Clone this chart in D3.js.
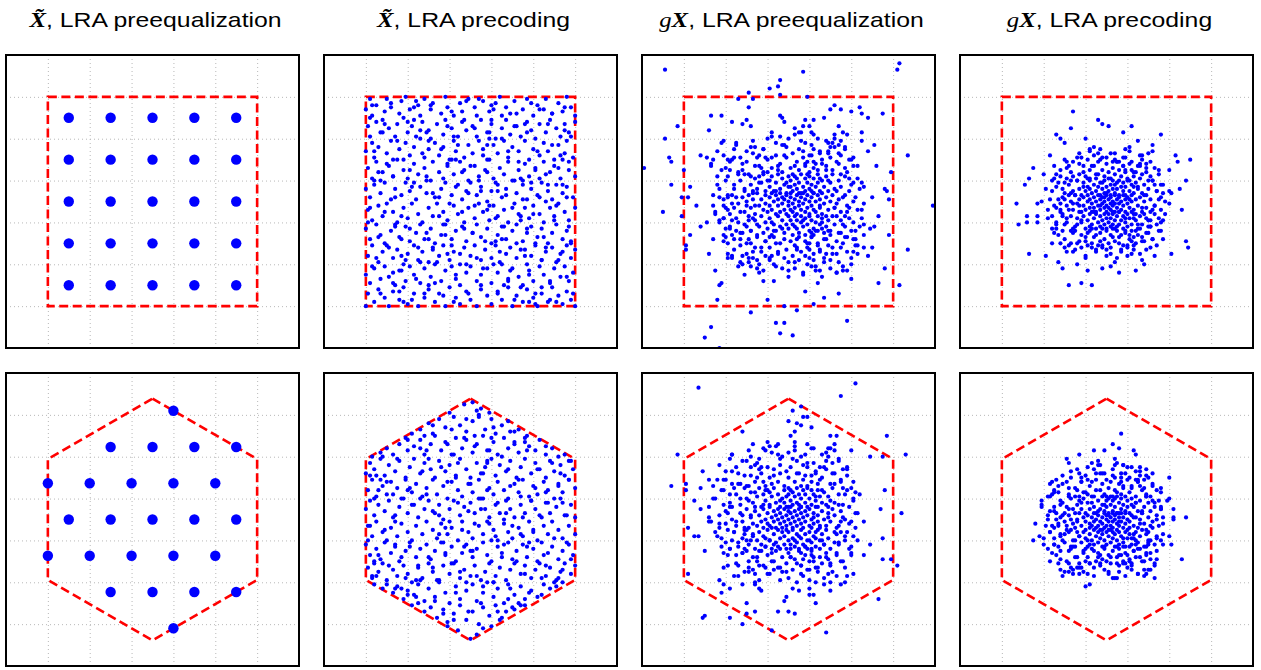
<!DOCTYPE html>
<html>
<head>
<meta charset="utf-8">
<script src="https://cdn.jsdelivr.net/npm/d3@7"></script>
<style>
  body { margin: 0; background: #fff; }
  svg { display: block; }
  .grid line { stroke: #b8b8b8; stroke-width: 1; stroke-dasharray: 1,3; }
  .grid path { display: none; }
</style>
</head>
<body>
<div id="chart"></div>
<script>
// ---- data: lattice units; cloud points are flat x,y pairs in twentieths of a unit ----
const axisDomain = [-3.5, 3.5];
const gridTicks = [-2.5, -1.5, -0.5, 0.5, 1.5, 2.5];

const squareLattice = [
  [-2, 2], [-1, 2], [0, 2], [1, 2], [2, 2],
  [-2, 1], [-1, 1], [0, 1], [1, 1], [2, 1],
  [-2, 0], [-1, 0], [0, 0], [1, 0], [2, 0],
  [-2, -1], [-1, -1], [0, -1], [1, -1], [2, -1],
  [-2, -2], [-1, -2], [0, -2], [1, -2], [2, -2]
];
const hexLattice = [
  [0.5, 2.598],
  [-1, 1.732], [0, 1.732], [1, 1.732], [2, 1.732],
  [-2.5, 0.866], [-1.5, 0.866], [-0.5, 0.866], [0.5, 0.866], [1.5, 0.866],
  [-2, 0], [-1, 0], [0, 0], [1, 0], [2, 0],
  [-2.5, -0.866], [-1.5, -0.866], [-0.5, -0.866], [0.5, -0.866], [1.5, -0.866],
  [-1, -1.732], [0, -1.732], [1, -1.732], [2, -1.732],
  [0.5, -2.598]
];
const squareRegion = [[-2.5, 2.5], [2.5, 2.5], [2.5, -2.5], [-2.5, -2.5]];
const hexRegion = [[0, 2.887], [2.5, 1.443], [2.5, -1.443], [0, -2.887], [-2.5, -1.443], [-2.5, 1.443]];

// X~, LRA precoding (square)
const sqPrecoding = [
  -50,44, -48,49, -47,41, -45,46, -41,43, -40,49, -38,45, -34,42, -33,48, -31,50, -29,44, -25,46, -24,41, -22,49, -19,44, -18,47, -14,42, -12,50, -11,45, -8,41, -5,47, -4,43, -1,49, 2,45, 3,41, 6,48, 9,43, 10,46, 14,50, 15,41, 17,45, 21,48, 22,42, 25,44, 27,49, 30,41, 32,46, 35,44, 36,49, 39,42, 42,47, 44,43, 46,50, 48,45, 50,41,
  -49,36, -48,31, -45,38, -43,33, -42,39, -39,35, -36,31, -35,37, -32,40, -30,33, -28,36, -26,31, -23,38, -20,34, -19,30, -16,37, -13,32, -12,39, -9,35, -6,31, -4,38, -2,34, 1,36, 3,31, 5,39, 8,33, 10,37, 12,30, 15,35, 17,39, 19,32, 22,36, 24,31, 27,38, 29,34, 31,30, 33,37, 36,33, 38,39, 41,35, 43,31, 45,37, 47,33, 50,38, -27,39,
  -50,24, -47,28, -46,21, -44,26, -40,23, -38,29, -37,20, -34,25, -31,28, -29,22, -27,26, -24,30, -22,21, -20,25, -17,28, -15,22, -13,26, -10,20, -8,29, -7,24, -3,21, -1,27, 1,23, 4,29, 6,25, 8,20, 11,27, 13,23, 16,29, 18,21, 20,26, 23,24, 26,29, 28,20, 30,25, 33,22, 35,28, 37,24, 40,20, 42,27, 45,23, 46,29, 49,21, -32,20, 9,30,
  -49,16, -47,11, -45,19, -42,14, -39,17, -37,12, -35,20, -32,15, -30,11, -27,18, -25,13, -22,16, -21,10, -18,19, -15,14, -13,11, -11,17, -8,13, -5,19, -3,15, -1,10, 2,17, 4,12, 7,15, 9,20, 11,11, 14,16, 16,13, 18,19, 21,10, 23,15, 26,18, 28,12, 31,16, 33,11, 35,19, 38,14, 40,17, 43,11, 44,20, 47,15, 50,12, -43,10, 25,10, -9,20,
  -50,6, -48,2, -46,8, -43,4, -41,9, -38,1, -36,6, -33,3, -31,9, -29,5, -26,1, -24,7, -21,4, -19,10, -17,2, -14,6, -12,9, -9,3, -7,7, -4,1, -2,5, 0,9, 3,3, 5,7, 8,0, 10,5, 12,9, 15,2, 17,6, 20,10, 22,4, 25,8, 27,1, 29,6, 32,3, 34,9, 37,5, 39,1, 41,8, 44,4, 46,7, 49,2, -27,9, 13,5, 36,0,
  -49,-4, -47,-9, -44,-2, -42,-7, -40,-1, -37,-5, -35,-10, -32,-3, -30,-8, -28,-1, -25,-6, -23,-10, -20,-3, -18,-7, -16,-1, -13,-5, -11,-9, -8,-2, -6,-6, -3,-10, -1,-3, 2,-8, 4,-1, 6,-5, 9,-9, 11,-2, 13,-7, 16,-4, 18,-10, 21,-1, 23,-6, 26,-3, 28,-8, 30,-2, 33,-6, 35,-10, 38,-3, 40,-7, 42,-1, 45,-5, 47,-9, 50,-3, -33,-7, 8,-4, 24,-9,
  -50,-13, -48,-18, -45,-11, -43,-16, -41,-20, -38,-14, -36,-11, -34,-17, -31,-12, -29,-19, -26,-15, -24,-11, -22,-18, -19,-13, -17,-20, -14,-16, -12,-11, -9,-18, -7,-14, -4,-12, -2,-19, 1,-15, 3,-11, 5,-17, 8,-13, 10,-20, 13,-16, 15,-12, 17,-18, 20,-14, 22,-11, 25,-19, 27,-15, 29,-12, 32,-17, 34,-13, 37,-20, 39,-15, 41,-11, 44,-18, 46,-14, 48,-20, -21,-15, 12,-19, 31,-20,
  -49,-26, -47,-21, -44,-29, -42,-24, -40,-21, -37,-27, -35,-23, -32,-30, -30,-25, -27,-21, -25,-28, -23,-24, -20,-29, -18,-22, -15,-26, -13,-21, -10,-28, -8,-24, -5,-30, -3,-22, 0,-26, 2,-21, 5,-28, 7,-23, 10,-27, 12,-21, 14,-29, 17,-25, 19,-22, 22,-27, 24,-23, 27,-30, 29,-26, 31,-21, 34,-28, 36,-24, 39,-22, 41,-29, 43,-25, 46,-21, 48,-27, 50,-23, -11,-25, 26,-23, -33,-26,
  -50,-35, -48,-39, -46,-32, -43,-37, -41,-31, -39,-36, -36,-40, -34,-33, -31,-38, -29,-31, -27,-35, -24,-39, -22,-32, -19,-36, -17,-30, -14,-38, -12,-33, -9,-31, -7,-37, -5,-40, -2,-34, 0,-31, 3,-38, 5,-35, 8,-32, 10,-39, 13,-34, 15,-30, 18,-37, 20,-32, 23,-36, 25,-40, 28,-33, 30,-38, 33,-31, 35,-35, 38,-39, 40,-32, 43,-36, 45,-31, 47,-38, 49,-34, -20,-40, 16,-40, -37,-34,
  -50,-50, -49,-44, -46,-48, -44,-42, -41,-46, -39,-50, -37,-43, -34,-47, -32,-41, -30,-49, -27,-44, -25,-50, -22,-46, -20,-42, -17,-48, -15,-44, -12,-50, -10,-41, -7,-46, -5,-49, -2,-43, 0,-47, 3,-50, 5,-42, 8,-45, 10,-49, 13,-43, 15,-47, 18,-41, 20,-50, 22,-45, 25,-48, 27,-42, 30,-46, 32,-50, 34,-44, 37,-48, 39,-41, 42,-45, 44,-49, 46,-43, 48,-47, 50,-50, 31,-49, -28,-47,
  -37,12, 19,-33, 44,8, -6,27, 31,-44, -45,-27, 8,14, -21,33, 2,-2, 47,-12, -13,-45, 26,37, -33,-18, 12,-8, -48,40, 39,27, -2,48, 17,3, -26,-37, 34,-28, -9,-21, 23,19, -41,-5, 5,-40, 46,-36, -18,4, 29,47, -30,38, 14,-24, -4,14, 41,-2, -46,24, 9,33, -24,-29, 36,13, -15,-7, 21,-47, -38,47, 1,-15, 48,31, -11,36, 27,-13, -43,-44, 11,44, -29,15, 33,2, -7,-35, 45,45, -20,-18, 6,22, -35,29, 18,-38, -1,4, 38,-47, -49,-10, 24,11, -16,-29, 43,22, -27,45, 3,-27, 30,-6, -44,14, 15,30, -10,-1, 37,37, -32,-48, 7,-19, -3,39, 49,-44,
  -23,23, 20,-3, -39,-22, 13,8, -8,-48, 42,16, -19,46, 28,-35, -47,-31, 0,17, 35,-17, -14,25, 24,-41, -36,-12, 10,39, -5,-25, 46,2, -28,7, 16,-12, -42,33, 32,24, -12,-16, 4,49, -34,-43, 40,-9, -21,12, 26,-26, -1,-44, 45,34, -40,18, 11,-30, -17,-39, 33,44, -6,8, 22,-20, -48,-3, 8,27, -25,-22, 38,-38, -3,-13, 19,42, -31,-28, 47,19, -9,43, 29,9, -44,-17, 13,-44, -20,29, 36,-22, 2,35, -37,-39, 24,-7, -11,18, 42,-28, -26,48, 6,-32, 31,15, -15,2, 18,24,
  -33,-33, 48,-19, -4,-5, 27,33, -46,10, 9,-2, -22,-44, 39,42, -8,31, 15,-18, -41,37, 34,-41, -18,-23, 5,5, 44,-24, -29,-13, 21,36, -2,-30, 37,8, -36,2, 12,47, -13,-11, 28,-48, -47,46, 4,10, -24,34, 41,-48, -7,20, 25,1
];

// gX, LRA preequalization (square)
const sqGPreeq = [
  -59,63, 53,66, 52,63, 7,62, -4,58, -5,55, -9,54, -19,52, -4,51, -24,49, 9,50, -17,49, -19,45, -69,16, 69,-2, 57,22, 57,-23, 53,-40, -59,30, -53,36, -57,21, -56,19, -56,8, -60,-5, -51,-7, -51,2, -48,2, -49,-21, -49,-23,
  -37,-60, -40,-65, -33,-70, -18,-53, -6,-58, -2,-58, -4,-63, 2,-64, 4,-52, -2,-50, 28,-57, 12,-49, -34,-47, -38,-25, -35,-33, -32,-39, -33,-40, -10,-47, 8,-43, 17,-46, 24,-44, 46,-32, 43,-39, 48,-16,
  45,42, 34,45, 35,42, 22,46, 20,44, 25,44, 30,43, 38,40, 41,27, 42,17, 49,14, 46,6, 47,5, 48,1, 43,-7, 41,-12, 40,-22, 36,-22, -37,41, -32,41, -38,34, -27,38, -42,22, -39,21, -36,20, -37,18, -50,15, -47,7, -44,-2, -42,-12, -47,-16, -36,-18, -39,-10,
  -22,37, -20,39, -18,36, -4,41, -3,40, -2,38, 8,39, 12,39, 7,36, 3,35, 3,32, 11,33, 10,36, 17,40, 24,36, 26,33, 28,32, 35,33, 35,29, 38,24, 24,27, 19,28, 20,26, -32,28, -31,29, -34,24, -29,20, -27,20, -37,17, -33,2, -35,-6, -31,-8, -30,-3, -29,2, -28,-12, -31,-16,
  -29,-25, -27,-27, -23,-29, -19,-27, -18,-31, -21,-35, -15,-32, -12,-38, -7,-38, -6,-31, 0,-33, 5,-28, 11,-31, 15,-33, 16,-36, 14,-39, 23,-34, 28,-33, 30,-37, 32,-21, 33,-25, 36,-16, 39,-13, 38,-26, 31,-18,
  -18,26, -8,31, -2,27, 5,33, 12,25, 18,29, 27,26, -25,28, 8,28, -12,25, 22,32, 0,30, 15,24,
  -30,16, -26,21, -22,15, -20,19, -17,23, -14,17, -12,14, -10,20, -8,16, -6,22, -4,18, -3,14, -1,21, 1,16, 2,23, 4,19, 5,15, 7,21, 8,17, 10,14, 11,22, 13,18, 14,15, 16,20, 18,17, 19,23, 21,15, 23,19, 25,22, 27,16, 30,20, 33,17, -15,21, 9,19, -5,15, 3,17, 12,16,
  -34,8, -29,12, -26,6, -23,10, -21,5, -19,13, -18,8, -16,11, -15,6, -13,9, -12,13, -11,5, -10,10, -9,7, -8,12, -7,5, -6,9, -5,13, -4,6, -3,11, -2,8, -1,4, 0,12, 0,7, 1,10, 2,5, 2,13, 3,8, 4,11, 4,6, 5,9, 6,13, 6,4, 7,7, 8,11, 8,5, 9,9, 10,12, 10,6, 11,8, 12,4, 12,11, 13,7, 14,13, 14,9, 15,5, 16,10, 17,7, 18,12, 19,5, 20,9, 21,13, 22,6, 24,10, 25,7, 27,12, 29,5, 31,9, 36,7, -24,13, -17,4, -14,12, -6,5, 1,7, 3,12, 5,4, 9,13, 11,5, 15,11, -1,9,
  -36,-2, -31,1, -29,-4, -27,3, -24,-1, -22,2, -21,-5, -20,0, -19,3, -18,-3, -17,1, -16,-6, -15,4, -14,-2, -13,1, -12,-4, -11,3, -11,-1, -10,-5, -9,2, -9,-2, -8,4, -8,-4, -7,0, -6,-6, -6,3, -5,-2, -5,1, -4,-5, -4,4, -3,-1, -3,2, -2,-4, -2,1, -1,-6, -1,3, 0,-2, 0,0, 1,-4, 1,2, 1,4, 2,-1, 2,-5, 3,1, 3,-3, 4,3, 4,-6, 5,0, 5,-2, 6,2, 6,-4, 7,4, 7,-1, 8,-5, 8,1, 9,3, 9,-3, 10,0, 10,-6, 11,2, 11,-2, 12,4, 12,-4, 13,0, 13,-5, 14,3, 15,-2, 15,1, 16,-6, 16,4, 17,-1, 18,2, 19,-4, 20,0, 21,3, 22,-3, 24,1, 25,-5, 26,2, 28,-2, 31,0, 35,-4, 40,2, -26,-3, 23,-1,
  -33,-10, -28,-13, -25,-8, -23,-15, -21,-11, -19,-7, -18,-14, -16,-9, -15,-16, -14,-12, -13,-7, -12,-15, -11,-10, -10,-13, -9,-8, -8,-16, -7,-11, -6,-14, -5,-7, -4,-12, -3,-9, -2,-15, -1,-11, 0,-7, 0,-13, 1,-9, 2,-16, 2,-11, 3,-7, 4,-13, 4,-9, 5,-15, 6,-10, 6,-7, 7,-12, 8,-16, 8,-8, 9,-11, 10,-14, 10,-7, 11,-9, 12,-13, 12,-16, 13,-10, 14,-7, 14,-14, 15,-11, 16,-8, 17,-15, 18,-12, 19,-9, 20,-14, 21,-7, 22,-11, 24,-15, 25,-9, 27,-12, 29,-8, 32,-14, -27,-16, -20,-12, -17,-8, -8,-10, -3,-13, 3,-12, 7,-9, 11,-15, 16,-13, 23,-7, 36,-11,
  -31,-19, -26,-23, -23,-18, -20,-25, -18,-20, -15,-17, -13,-24, -11,-19, -9,-22, -7,-17, -5,-25, -4,-20, -2,-18, -1,-23, 1,-19, 2,-26, 3,-21, 5,-17, 6,-24, 8,-19, 9,-22, 11,-17, 12,-25, 14,-20, 15,-23, 17,-18, 19,-21, 21,-25, 23,-19, 25,-22, 28,-17, 31,-24, -16,-22, -8,-26, 4,-23, 10,-20, 18,-25,
  -22,-30, -14,-34, -9,-28, -3,-32, 3,-29, 7,-35, 13,-31, 20,-28, 26,-33, -17,-27, 0,-36, 10,-27, 30,-30,
  -24,14, 27,-17, -11,-26, 19,24, -28,-6, 30,8, -6,28, 12,-28, -20,-20, 24,18, -30,10, 33,-4, -14,22, 8,-26, -25,-14, 21,-22, -3,27, 28,14, -17,-24, 15,23, -29,3, 31,-10, -9,-27, 26,-20, -22,18, 17,-27, 0,-29, 29,20, -27,-9, 11,27, -19,-18, 32,2, -12,25, 23,-25, -31,-2, 20,21, -7,-30, 27,-7, -23,21, 14,-21, -16,26, 30,-14, -26,-18, 6,29, -21,6, 25,13, -13,-22, 18,-18, -28,15, 34,6, -5,-24, 22,26, -24,-10, 9,-30, -18,12, 28,-24, -10,30, -30,-13, 16,18, -15,-28, 35,-8, -26,25, 4,-22, -20,-2, 23,5, -8,21, 19,-14, -33,6, 13,-33, -1,26, 29,-3, -22,-26, 10,22, -27,-1, 24,-29, -16,17, 31,17, -11,-19, 20,-32,
  -32,15, 7,24, -25,2, 26,-11, -4,31, 15,-24, -19,-29, 33,11, -14,9, 21,28, -29,-20, 12,19, -9,-17, 27,25, -23,-5, 3,-32, -35,-5, 18,-7, -17,29, 32,-18, -21,13, 9,-20, -12,-33, 25,-15, -26,8, 14,30, -6,-20, 36,-1, -31,22, 5,25, -18,-14, 22,-3, -10,14, 17,-29, -24,-31, 29,11, -2,-27, 11,-17, -28,19, 24,23, -15,-11, 34,-12, -8,33, 19,10, -33,-9, 7,-34, -20,24, 30,-27, -13,16, 16,-10, -27,-26, 25,29, -5,17, 20,-16, -30,-17, 12,32, -16,-2, 28,-5, -22,-15, 8,18, -36,3, 23,-34, -11,21, 31,21, -19,-9, 4,-18, -25,27, 35,9, -7,-14, 18,15, -34,12, 13,-14, -2,22, 26,-31, -29,-27, 10,-23, -17,5, 22,30, -14,-30, 33,-21, -9,10, 15,-3, -23,-21, 6,33, -31,-8, 27,3
];

// gX, LRA precoding (square)
const sqGPrec = [
  -16,43, -4,39, -2,37, 1,36, 12,36, -17,35, -24,32, -22,30, -20,28, 26,32, 40,20, 33,22, 34,19, -35,16, -37,11, -39,8, -43,-1, -42,-11, -38,-7, -38,-10, -33,-7, -33,-10, -37,-25, -29,-26, -23,-29, -21,-32, -18,-40, -12,-39, -7,-40, -9,-33, -2,-32, 2,-31, 14,-33, 18,-30, 23,-26, 31,-25, 39,-22, 38,-19, 36,-4, 38,10, 35,6, 30,15, 30,5, -30,13, -31,0, 8,33, -10,30, 15,29, 22,27, -27,22, 27,-18, -26,-20, 6,-34, -14,-30,
  -14,21, -8,25, -3,20, 2,23, 6,19, 11,26, 16,22, -19,19, 9,21, -6,22, 22,24,
  -24,13, -19,16, -16,12, -13,18, -11,14, -9,11, -7,17, -5,13, -4,19, -2,15, -1,12, 0,18, 1,14, 2,11, 3,16, 4,13, 5,19, 6,15, 7,12, 8,17, 9,14, 10,11, 11,18, 12,15, 13,12, 15,17, 17,13, 19,16, 21,12, 25,15, -8,15, 3,19, 14,14,
  -29,6, -23,9, -20,4, -18,8, -16,5, -14,10, -13,6, -12,3, -11,9, -10,5, -9,7, -8,10, -7,4, -6,8, -5,5, -5,11, -4,7, -3,3, -3,9, -2,6, -1,10, -1,4, 0,7, 1,5, 1,11, 2,8, 2,3, 3,6, 3,10, 4,4, 4,8, 5,6, 6,10, 6,3, 7,7, 8,5, 8,9, 9,3, 9,7, 10,10, 11,5, 12,8, 13,4, 14,9, 15,6, 16,11, 17,4, 18,8, 20,6, 22,10, 24,5, 27,8, 31,4, -26,10, -15,3, -19,11, -2,9, 5,9, 11,10, -8,6, 13,7, 19,3, 0,4,
  -33,-1, -27,1, -24,-3, -21,2, -19,-2, -17,0, -16,-4, -15,3, -14,-1, -13,1, -12,-5, -11,-2, -11,2, -10,-4, -9,0, -9,3, -8,-3, -8,1, -7,-5, -7,-1, -6,2, -6,-3, -5,0, -5,-5, -4,3, -4,-2, -3,1, -3,-4, -2,-1, -2,2, -1,-3, -1,0, 0,3, 0,-5, 0,-2, 1,1, 1,-3, 2,-1, 2,2, 2,-4, 3,0, 3,-2, 4,3, 4,-5, 4,-1, 5,1, 5,-3, 6,-1, 6,2, 7,-4, 7,0, 8,3, 8,-2, 9,1, 9,-5, 10,-1, 10,2, 11,-3, 12,0, 12,3, 13,-4, 14,1, 15,-2, 16,2, 17,-5, 18,0, 19,-3, 21,1, 23,-2, 26,2, 30,-1, -22,-5, -18,3, -1,2, 3,-5, 6,-5, 11,1, -3,-2,
  -28,-8, -24,-11, -21,-6, -19,-10, -17,-7, -15,-12, -14,-8, -13,-5, -12,-10, -11,-7, -10,-13, -9,-9, -8,-6, -7,-11, -6,-8, -5,-13, -5,-6, -4,-10, -3,-7, -3,-12, -2,-9, -1,-6, -1,-11, 0,-8, 0,-13, 1,-10, 1,-6, 2,-12, 2,-8, 3,-6, 3,-11, 4,-9, 4,-13, 5,-7, 6,-11, 6,-5, 7,-9, 8,-13, 8,-7, 9,-10, 10,-6, 10,-12, 11,-8, 12,-11, 13,-6, 14,-9, 15,-13, 16,-7, 17,-11, 19,-8, 21,-12, 23,-6, 26,-10, -26,-13, -16,-13, -8,-12, -6,-5, 5,-12, 12,-5, 18,-6, -2,-13, 9,-8, 20,-9,
  -25,-15, -20,-18, -17,-14, -14,-20, -12,-16, -10,-19, -8,-14, -6,-17, -4,-21, -3,-15, -1,-18, 0,-14, 1,-20, 2,-16, 4,-19, 5,-14, 6,-17, 8,-21, 9,-15, 11,-18, 12,-14, 14,-20, 15,-16, 17,-19, 19,-15, 22,-18, 26,-14, -18,-21, -7,-20, 3,-13, 10,-21, 13,-17, -2,-21,
  -16,-24, -10,-27, -5,-23, 0,-26, 4,-29, 7,-23, 12,-25, 17,-28, 21,-22, -20,-22, 2,-22,
  -20,9, 21,-12, -9,-21, 16,18, -22,-4, 24,5, -4,23, 10,-22, -16,-15, 19,14, -24,7, 26,-4, -11,17, 6,-20, -20,-11, 17,-17, -2,21, 22,10, -13,-19, 12,19, -23,1, 25,-8, -7,-22, 20,-15, -17,14, 13,-21, 0,-23, 23,16, -21,-7, 8,21, -15,-14, 25,1, -9,20, 18,-19, -25,-2, 16,17, -5,-24, 21,-5, -18,17, 11,-16, -12,21, 24,-11, -21,-14, 4,23, -17,4, 20,10, -10,-17, 14,-14, -22,12, 27,4, -3,-19, 17,20, -19,-8, 7,-24, -14,10, 22,-18, -8,24, -24,-10, 13,14, -12,-22, 28,-6, -20,20, 3,-17, -16,-1, 18,3, -6,17, 15,-11, -26,5, 10,-26, 0,21, 23,-2, -17,-20, 8,17,
  -22,-1, 19,-23, -13,13, 25,13, -9,-15, 16,-25, -25,11, 5,19, -20,1, 21,-9, -3,25, 12,-19, -15,-23, 26,8, -11,7, 17,22, -23,-16, 9,15, -7,-13, 21,19, -18,-4, 2,-25, -28,-4, 14,-6, -13,23, 25,-14, -17,10, 7,-16, -10,-26, 20,-12, -21,6, 11,24, -5,-16, 28,0, -25,17, 4,20, -14,-11, 17,-3, -8,11, 13,-23, -19,-24, 23,8, -2,-22, 9,-14, -22,15, 19,18, -12,-9, 27,-9, -6,26, 15,7, -26,-7, 5,-27, -16,19, 24,-21, -10,12, 13,-8, -22,-20, 20,23, -4,13, 16,-13, -24,-13, 9,25, -13,-2, 22,-4
];

// X~, LRA precoding (hexagon)
const hexPrecoding = [
  -10,51, 5,53, -3,55, 9,51, 1,56,
  -28,41, -24,43, -20,46, -15,48, -12,44, -18,41, -8,49, -5,45, -2,42, 1,47, 4,50, 7,43, 10,48, 12,41, 15,45, 18,47, 21,42, 23,43, 27,40, -22,40, 2,40,
  -47,30, -43,32, -40,34, -37,31, -34,36, -31,39, -30,33, -27,35, -24,38, -22,31, -19,36, -17,40, -14,33, -12,37, -9,31, -7,39, -4,34, -2,38, 1,32, 3,36, 6,40, 8,33, 11,37, 13,31, 16,39, 18,34, 21,37, 23,32, 26,39, 28,35, 31,33, 33,38, 36,31, 39,34, 42,30, 45,31,
  -50,22, -48,27, -46,24, -43,29, -41,21, -39,26, -36,23, -34,28, -31,20, -29,25, -27,29, -24,22, -22,27, -19,24, -17,20, -15,28, -12,23, -10,26, -7,21, -5,29, -2,24, 0,20, 3,27, 5,22, 7,25, 10,29, 12,21, 14,26, 17,23, 19,28, 22,20, 24,25, 26,29, 29,22, 31,27, 33,24, 36,20, 38,28, 40,23, 43,26, 45,21, 47,28, 49,24, -48,21, 8,28,
  -49,14, -47,19, -45,11, -42,16, -40,12, -38,18, -35,15, -33,10, -31,19, -28,13, -26,17, -23,11, -21,15, -18,19, -16,12, -13,16, -11,10, -9,18, -6,14, -4,11, -1,17, 1,13, 4,19, 6,10, 9,15, 11,12, 13,18, 16,14, 18,10, 21,17, 23,13, 25,19, 28,11, 30,16, 32,12, 35,18, 37,14, 40,10, 42,17, 44,13, 47,19, 50,15, -30,14, 19,16, -43,19,
  -50,5, -48,9, -46,2, -44,7, -41,4, -39,9, -37,1, -34,6, -32,10, -30,3, -27,7, -25,1, -22,5, -20,9, -17,3, -15,7, -13,0, -10,5, -8,9, -5,2, -3,6, 0,8, 2,3, 5,10, 7,5, 9,1, 12,7, 14,3, 17,9, 19,5, 21,1, 24,7, 26,3, 29,9, 31,5, 34,1, 36,8, 38,3, 41,6, 43,10, 45,2, 48,7, 50,1, -24,10, 16,0,
  -49,-3, -47,-8, -45,-1, -42,-6, -40,-10, -38,-4, -35,-8, -33,-2, -30,-6, -28,-10, -26,-3, -23,-7, -21,-1, -18,-5, -16,-9, -14,-2, -11,-7, -9,-4, -6,-10, -4,-1, -1,-6, 1,-9, 4,-3, 6,-7, 8,-1, 11,-5, 13,-10, 16,-2, 18,-6, 20,-9, 23,-4, 25,-8, 28,-1, 30,-5, 32,-10, 35,-3, 37,-7, 39,-1, 42,-5, 44,-9, 47,-3, 50,-7, -36,-1, 10,-10, -12,-4,
  -50,-12, -48,-17, -45,-14, -43,-19, -41,-11, -38,-16, -36,-13, -34,-20, -31,-15, -29,-11, -26,-18, -24,-14, -21,-12, -19,-19, -17,-15, -14,-11, -12,-17, -9,-13, -7,-20, -4,-16, -2,-12, 1,-18, 3,-14, 6,-11, 8,-17, 10,-20, 13,-13, 15,-16, 18,-11, 20,-19, 22,-15, 25,-12, 27,-18, 30,-14, 32,-20, 34,-11, 37,-16, 39,-13, 42,-19, 44,-15, 46,-11, 49,-17, -46,-20, 0,-15, 28,-11,
  -49,-23, -47,-28, -44,-25, -42,-21, -40,-29, -37,-24, -35,-27, -32,-22, -30,-26, -28,-30, -25,-23, -23,-28, -20,-21, -18,-25, -15,-29, -13,-22, -10,-26, -8,-21, -5,-28, -3,-24, 0,-27, 2,-22, 5,-29, 7,-25, 9,-21, 12,-27, 14,-23, 17,-29, 19,-24, 21,-21, 24,-26, 26,-22, 29,-28, 31,-24, 33,-21, 36,-27, 38,-23, 41,-29, 43,-25, 45,-21, 48,-26, 50,-22, -46,-21, 11,-30, -26,-29,
  -46,-31, -42,-33, -40,-31, -37,-35, -35,-32, -32,-38, -30,-34, -27,-36, -25,-31, -22,-39, -20,-33, -17,-37, -15,-30, -12,-35, -10,-40, -7,-32, -5,-38, -2,-34, 1,-31, 3,-39, 6,-35, 8,-30, 11,-37, 13,-33, 16,-40, 18,-31, 21,-36, 24,-32, 26,-38, 29,-34, 32,-37, 35,-31, 38,-33, 41,-32, 44,-30,
  -28,-41, -22,-44, -19,-42, -16,-47, -13,-43, -11,-49, -8,-45, -5,-41, -2,-48, 1,-44, 4,-50, 6,-42, 9,-46, 12,-41, 14,-48, 17,-44, 20,-42, 23,-40, 26,-41, -25,-40,
  -6,-53, 3,-55, 10,-51, -11,-51, 0,-57,
  -37,12, 19,-33, 44,8, -6,27, 21,-43, -45,-27, 8,14, -21,33, 2,-2, 47,-12, -13,-45, 26,37, -33,-18, 12,-8, -30,38, 39,27, -2,48, 17,3, -26,-37, 34,-28, -9,-21, 23,19, -41,-5, 5,-40, 40,-30, -18,4, 9,33, -24,-29, 36,13, -15,-7, 15,-47, 1,-15, 48,28, -11,36, 27,-13, -36,-33, 11,44, -29,15, 33,2, -7,-35, 36,35, -20,-18, 6,22, -35,29, 18,-38, -1,4, -49,-10, 24,11, -16,-29, 43,22, -18,45, 3,-27, 30,-6, -44,14, 15,30, -10,-1, -3,39, -23,23, 20,-3, -39,-22, 13,8, -8,-48, 42,16, 28,-35, -47,-27, 0,17, 35,-17,
  -14,25, 24,-41, -36,-12, 10,39, -5,-25, 46,2, -28,7, 16,-12, -42,30, 32,24, -12,-16, 4,49, -30,-36, 40,-9, -21,12, 26,-26, -1,-44, -40,18, 11,-30, -17,-39, 6,-52, -6,8, 22,-20, -48,-3, 8,27, -25,-22, -3,-13, 19,42, -31,-28, 47,19, -9,43, 29,9, -44,-17, 13,-44, -20,29, 36,-22, 2,35, 24,-7, -11,18, 42,-28, 6,-32, 31,15, -15,2, 18,24, -33,-33, 48,-19, -4,-5, 27,33, -46,10, 9,-2, -8,31, 15,-18, 34,-36, -18,-23, 5,5, 44,-24, -29,-13, 21,36, -2,-30, 37,8, -36,2, -13,-11, 4,10, -24,34, -7,20, 25,1, -45,21, 3,52
];

// gX, LRA preequalization (hexagon)
const hexGPreeq = [
  -43,63, 32,65, 25,59, 47,40, 56,31, -53,31, -56,16, 54,3, 52,-22, 49,-19, 43,-38, 18,-54, -8,-53, -22,-50, -41,-47, -40,-46, -28,-47, -20,-40, -20,-45, -16,-44, -5,-44, 0,-44, 3,-45, 13,-40, -48,-26, -40,-15, -45,-8, -43,-8, -48,-4, -38,-1, -42,5, -45,9, -49,14, -49,17, -42,15, -38,19, -41,23,
  -22,42, -17,36, -9,35, -5,36, 0,47, 2,52, 6,54, 7,49, 9,49, 4,46, 6,45, 11,44, 3,42, 1,40, 20,40, 23,40, 22,36, 30,33, 39,30, 45,30, 46,14, 44,5, 45,-9, 45,-19, 39,-12, 36,-17, 31,-26, 27,-30, 17,-31, 20,-34, 10,-36, 12,-36, 5,-34, -1,-37, -2,-39, -13,-34, -28,-33, -32,-35, -31,-31, -33,-29, -22,-31, -16,-30, -14,-33,
  -20,28, -11,33, -4,29, 3,35, 9,27, 16,31, 24,28, -27,31, 0,32, 12,34, -15,27, 20,34, 6,30,
  -31,19, -27,23, -24,17, -21,21, -18,25, -16,18, -13,22, -11,16, -9,20, -7,24, -5,18, -4,22, -2,16, 0,20, 1,25, 3,18, 4,22, 6,16, 8,21, 9,25, 11,18, 13,23, 14,17, 16,20, 18,24, 20,17, 22,22, 25,19, 28,24, 31,18, -19,16, -8,17, -1,23, 7,19, 15,25, -14,24, 11,21,
  -36,10, -31,14, -28,8, -25,12, -23,7, -21,15, -20,10, -18,13, -17,8, -15,11, -14,15, -13,6, -12,12, -11,9, -10,14, -9,7, -8,11, -7,15, -6,8, -5,12, -4,6, -3,10, -2,14, -2,8, -1,11, 0,6, 0,15, 1,9, 2,13, 2,7, 3,11, 4,15, 4,8, 5,12, 6,6, 6,10, 7,14, 8,8, 8,12, 9,6, 10,10, 11,14, 11,7, 12,12, 13,9, 14,6, 14,14, 15,11, 16,8, 17,13, 18,7, 19,11, 21,15, 22,8, 24,12, 26,7, 28,14, 31,9, 34,12, -26,15, -16,6, -9,13, -4,9, 1,14, 5,7, 9,15, 13,11, 19,6, -12,7, 0,12,
  -38,1, -33,-2, -30,4, -27,0, -25,-3, -23,3, -22,-1, -20,5, -19,-4, -18,1, -17,-2, -16,4, -15,-3, -14,2, -13,-1, -12,5, -12,-4, -11,0, -10,3, -10,-2, -9,6, -9,-3, -8,1, -7,-1, -7,4, -6,-4, -6,2, -5,0, -5,5, -4,-2, -4,3, -3,-4, -3,1, -2,5, -2,-1, -1,2, -1,-3, 0,4, 0,0, 1,-2, 1,3, 1,6, 2,1, 2,-4, 3,4, 3,-1, 4,2, 4,-3, 5,0, 5,5, 6,-2, 6,3, 7,1, 7,-4, 8,4, 8,-1, 9,2, 10,-3, 10,5, 11,0, 12,3, 12,-2, 13,6, 14,-1, 14,2, 15,-4, 16,4, 17,0, 18,-3, 19,3, 20,-1, 22,2, 23,-4, 25,4, 27,0, 29,-2, 32,3, 36,-1, -28,6, -21,-4, -8,-4, -1,6, 6,6, 11,-4, 21,5,
  -34,-8, -30,-11, -26,-6, -24,-13, -22,-9, -20,-5, -19,-12, -17,-8, -16,-14, -15,-10, -14,-6, -13,-12, -12,-8, -11,-13, -10,-5, -9,-10, -8,-14, -7,-7, -6,-11, -5,-5, -5,-13, -4,-9, -3,-6, -2,-12, -2,-8, -1,-14, 0,-6, 0,-10, 1,-12, 2,-5, 2,-9, 3,-13, 4,-7, 4,-11, 5,-14, 6,-9, 6,-5, 7,-12, 8,-7, 9,-10, 9,-14, 10,-6, 11,-11, 12,-8, 13,-13, 14,-5, 15,-10, 16,-7, 17,-12, 19,-9, 20,-14, 22,-6, 24,-11, 27,-8, 30,-13, -28,-14, -21,-7, -7,-12, -1,-5, 3,-10, 8,-13, 13,-9, 18,-5, -11,-9, 25,-6, -18,-10, 5,-8, 11,-14, -4,-14, 33,-10,
  -29,-17, -25,-21, -22,-16, -19,-23, -17,-18, -14,-15, -12,-22, -10,-17, -8,-20, -6,-15, -5,-23, -3,-18, -1,-21, 0,-16, 2,-24, 3,-19, 5,-15, 6,-22, 8,-17, 10,-20, 11,-15, 13,-23, 15,-18, 16,-21, 18,-16, 20,-22, 23,-17, 26,-20, 30,-16, -15,-20, -7,-24, 4,-21, 9,-24, 12,-18, 19,-19, -20,-15, 1,-18,
  -24,-27, -16,-31, -10,-26, -4,-29, 2,-33, 7,-27, 13,-30, 19,-26, 25,-31, -19,-25, -1,-25, 10,-33, 28,-27,
  -27,17, 24,-12, -14,-22, 18,28, -30,-2, 27,12, -8,32, 10,-24, -22,-16, 21,22, -32,14, 30,-1, -16,26, 6,-22, -27,-10, 18,-18, -5,31, 25,18, -19,-20, 12,27, -31,7, 28,-6, -11,-23, 23,-16, -24,22, 14,-23, -3,-25, 26,24, -29,-5, 8,31, -21,-14, 29,6, -14,29, 20,-21, -33,2, 17,25, -9,-26, 24,-3, -25,25, 11,-17, -18,30, 27,-10, -28,-14, 3,33, -23,10, 22,17, -15,-18, 15,-14, -30,19, 31,10, -7,-20, 19,30, -26,-6, 6,-26, -20,16, 25,-20, -12,34, -32,-9, 13,22, -17,-24, 32,-4, -28,29, 1,-18, -22,2, 20,9, -10,25, 16,-10, -35,10, 10,-29, -3,30, 26,1, -24,-22, 7,26, -29,3, 21,-25, -18,21, 28,21, -13,-15, 17,-28, -34,19, 4,28, -27,6, 23,-7, -6,35, 12,-20, -21,-25, 30,15, -16,13, 18,32, -31,-16, 9,16,
  -11,-13, 24,29, -25,-1, 0,-28, -37,-1, 15,-3, -19,33, 29,-14, -23,17, 6,-16, -14,-29, 22,-11, -28,12, 11,34, -8,-16, 33,3, -33,26, 2,29, -20,-10, 19,1, -12,18, 14,-25, -26,-27, 26,15, -4,-23, 8,-13, -30,23, 21,27, -17,-7, 31,-8, -10,37, 16,14, -35,-6, 4,-30, -22,28, 27,-23, -15,20, 13,-6, -29,-22, 22,33, -7,21, 17,-12, -32,-13, 9,36, -18,2, 25,-1, -24,-11, 5,22, -38,6, 20,-30, -13,25, 28,25, -21,-5, 1,-14, -27,31, 32,13, -9,-10, 15,19, -36,16, 10,-10, -4,26, 23,-27, -31,-23, 7,-19, -19,9, 19,34, -16,-26, 30,-17, -11,14, 12,1, -25,-17, 3,37, -33,-4, 24,7
];

// gX, LRA precoding (hexagon)
const hexGPrec = [
  7,41, 3,36, -1,33, -6,33, 13,33, 14,31, 6,34, -13,31, -19,29, -18,27, -4,28, -3,26, 4,29, 5,27, 8,26, 16,25, 14,23, 30,20, 22,22, 26,15, -27,17, -24,19, -31,9, -31,6, -28,11, -25,13, -28,2, -35,-10, -32,-8, -27,-20, -30,-12, -28,-14, -22,-24, -21,-27, -17,-23, -16,-26, -10,-32, -8,-31, -13,-26, -12,-23, 3,-28, 8,-21, 18,-27, 19,-26, 23,-28, 21,-24, 23,-21, 36,-19, 38,1, 32,0, 32,5, 31,-12, 30,-8, 30,10, 26,6,
  -12,20, -6,24, 0,19, 4,26, 9,22, 14,19, -17,23, 19,21, -2,22, 7,20, 12,25,
  -25,14, -21,17, -18,12, -15,15, -12,18, -10,13, -8,16, -6,11, -5,19, -3,14, -2,17, -1,12, 1,15, 2,18, 3,11, 4,14, 6,17, 7,12, 8,15, 10,19, 11,13, 12,16, 14,11, 15,18, 17,14, 19,12, 22,16, 26,13, -13,11, 5,13, -9,19, 16,16, 0,11,
  -31,7, -25,4, -22,9, -19,6, -17,10, -15,3, -14,7, -12,5, -11,10, -10,3, -9,8, -8,5, -7,11, -6,6, -5,3, -4,9, -3,5, -2,7, -2,11, -1,4, 0,9, 0,6, 1,3, 1,10, 2,7, 3,4, 3,9, 4,6, 5,11, 5,3, 6,8, 7,5, 7,10, 8,7, 9,4, 10,9, 10,6, 11,3, 12,10, 13,6, 14,8, 15,4, 16,9, 18,6, 19,11, 21,4, 23,8, 26,5, 29,9, -27,11, -20,3, -13,9, -4,4, 2,11, 6,3, 12,7, 17,3, -7,8, 4,10, -16,5, 9,11, -1,7, 20,8,
  -34,-2, -28,0, -25,-4, -22,1, -20,-1, -18,2, -17,-5, -16,-2, -14,0, -13,3, -12,-3, -11,1, -10,-5, -10,-1, -9,2, -8,-2, -8,-4, -7,1, -6,-1, -6,3, -5,-4, -5,0, -4,2, -4,-3, -3,-1, -3,-5, -2,1, -2,-2, -1,3, -1,-4, 0,0, 0,-3, 1,2, 1,-1, 1,-5, 2,1, 2,-3, 3,3, 3,-1, 3,-4, 4,0, 4,2, 5,-2, 5,-5, 6,1, 6,-3, 7,3, 7,-1, 8,-4, 8,1, 9,-2, 9,3, 10,0, 10,-5, 11,-1, 12,2, 13,-3, 14,1, 15,-4, 16,0, 17,3, 18,-2, 20,1, 22,-4, 24,0, 27,-2, 32,1, -24,3, -15,-4, -7,-3, 0,2, 5,3, 11,-4, 19,-5, -19,-3, 13,1, -2,-5, 6,-1,
  -30,-9, -25,-12, -22,-7, -20,-11, -18,-6, -16,-10, -15,-13, -13,-8, -12,-11, -11,-6, -10,-9, -9,-13, -8,-7, -7,-10, -6,-12, -5,-8, -4,-6, -4,-11, -3,-9, -2,-13, -2,-7, -1,-10, 0,-6, 0,-12, 1,-8, 2,-11, 2,-5, 3,-9, 4,-13, 4,-7, 5,-10, 6,-6, 6,-12, 7,-8, 8,-11, 9,-6, 9,-13, 10,-9, 11,-7, 12,-12, 13,-9, 14,-6, 15,-11, 16,-8, 18,-13, 19,-7, 21,-10, 24,-8, 27,-12, -27,-6, -17,-13, -9,-10, -1,-13, 3,-6, 8,-9, 17,-5, -14,-6, 11,-13, -6,-5, 20,-12, 5,-13, -23,-13, 14,-10,
  -26,-16, -22,-19, -18,-15, -15,-18, -13,-21, -11,-15, -9,-18, -7,-14, -5,-20, -4,-16, -2,-19, -1,-14, 1,-17, 2,-21, 3,-15, 5,-18, 6,-14, 8,-20, 9,-16, 11,-19, 13,-15, 14,-18, 16,-14, 18,-20, 21,-16, 24,-19, -19,-20, -8,-21, 0,-20, 7,-17, 12,-21, -3,-17, 19,-17,
  -14,-23, -9,-26, -3,-22, 1,-25, 5,-28, 10,-23, 15,-26, -18,-25, 6,-22, -6,-27, 20,-24,
  -21,8, 20,-11, -10,-20, 15,19, -23,-3, 23,6, -5,22, 9,-21, -17,-14, 18,15, -25,6, 25,-3, -12,18, 5,-21, -21,-10, 16,-18, -3,22, 21,11, -14,-18, 11,20, -24,0, 24,-9, -8,-21, 19,-16, -18,15, 12,-22, -1,-24, 22,17, -22,-8, 7,22, -16,-13, 24,2, -10,21, 17,-20, -26,-3, 15,18, -6,-23, 20,-6, -19,18, 10,-17, -13,22, 23,-12, -22,-15, 3,24, -18,5, 19,11, -11,-16, 13,-15, -23,13, 26,5, -4,-18, 16,21, -20,-7, 6,-25, -15,11, 21,-19, -9,25, -25,-9, 12,15, -13,-23, 27,-7, -21,21, 2,-18, -17,0, 17,4, -7,18, 14,-12, -27,4, 9,-27, -1,22, 22,-1, -18,-21, 7,18,
  -23,-2, 18,-24, -14,14, 24,14, -10,-14, 15,-26, -26,12, 4,20, -21,2, 20,-10, -4,26, 11,-20, -16,-24, 25,9, -12,8, 16,23, -24,-17, 8,16, -8,-12, 20,20, -19,-5, 1,-26, -29,-3, 13,-7, -14,24, 24,-15, -18,11, 6,-17, -11,-25, 19,-13, -22,7, 10,25, -6,-15, 27,1, -26,18, 3,21, -15,-10, 16,-2, -9,12, 12,-24, -20,-25, 22,9, -3,-21, 8,-13, -23,16, 18,19, -13,-8, 26,-10, -7,27, 14,8, -27,-6, 4,-28, -17,20, 23,-22, -11,13, 12,-9, -23,-21, 19,24, -5,14, 15,-14, -25,-12, 8,26, -14,-1, 21,-3
];

const titles = [
  [{ t: "X\u0303", s: "bi" }, { t: ", LRA preequalization" }],
  [{ t: "X\u0303", s: "bi" }, { t: ", LRA precoding" }],
  [{ t: "g", s: "i" }, { t: "X", s: "bi" }, { t: ", LRA preequalization" }],
  [{ t: "g", s: "i" }, { t: "X", s: "bi" }, { t: ", LRA precoding" }]
];

// ---- layout ----
const W = 1261, H = 670;
const colLeft = [6, 324, 642, 960];
const rowTop = [55, 373];
const size = 293;
const cloudDiv = 20;

const panels = [
  { row: 0, col: 0, region: squareRegion, lattice: squareLattice },
  { row: 0, col: 1, region: squareRegion, cloud: sqPrecoding },
  { row: 0, col: 2, region: squareRegion, cloud: sqGPreeq },
  { row: 0, col: 3, region: squareRegion, cloud: sqGPrec },
  { row: 1, col: 0, region: hexRegion, lattice: hexLattice },
  { row: 1, col: 1, region: hexRegion, cloud: hexPrecoding },
  { row: 1, col: 2, region: hexRegion, cloud: hexGPreeq },
  { row: 1, col: 3, region: hexRegion, cloud: hexGPrec }
];

function toPairs(flat) {
  const out = [];
  for (let i = 0; i < flat.length; i += 2) out.push([flat[i] / cloudDiv, flat[i + 1] / cloudDiv]);
  return out;
}

const svg = d3.select("#chart").append("svg")
  .attr("width", W)
  .attr("height", H)
  .style("font-family", "'Liberation Sans', Arial, sans-serif");

const x = d3.scaleLinear().domain(axisDomain).range([0, size]);
const y = d3.scaleLinear().domain(axisDomain).range([size, 0]);
const regionLine = d3.line().x(d => x(d[0])).y(d => y(d[1])).curve(d3.curveLinearClosed);

panels.forEach((p, i) => {
  const g = svg.append("g")
    .attr("transform", `translate(${colLeft[p.col]},${rowTop[p.row]})`);

  g.append("clipPath").attr("id", "clip" + i)
    .append("rect").attr("width", size).attr("height", size);

  // dotted grid
  g.append("g").attr("class", "grid")
    .call(d3.axisBottom(x).tickValues(gridTicks).tickSize(size).tickFormat(""));
  g.append("g").attr("class", "grid")
    .call(d3.axisRight(y).tickValues(gridTicks).tickSize(size).tickFormat(""));

  // dashed region
  g.append("path")
    .attr("d", regionLine(p.region))
    .attr("fill", "none")
    .attr("stroke", "#ff0000")
    .attr("stroke-width", 2.6)
    .attr("stroke-dasharray", "9,4.5");

  const pts = p.lattice ? p.lattice : toPairs(p.cloud);
  g.append("g").attr("clip-path", `url(#clip${i})`)
    .selectAll("circle")
    .data(pts)
    .join("circle")
    .attr("cx", d => x(d[0]))
    .attr("cy", d => y(d[1]))
    .attr("r", p.lattice ? 5.2 : 2.1)
    .attr("fill", "#0000ff");

  // frame
  g.append("rect")
    .attr("width", size).attr("height", size)
    .attr("fill", "none")
    .attr("stroke", "#000")
    .attr("stroke-width", 2);
});

// titles
titles.forEach((parts, c) => {
  const cx = colLeft[c] + size / 2 + 3;
  const t = svg.append("text")
    .attr("transform", `translate(${cx},27) scale(1.24,1)`)
    .attr("text-anchor", "middle")
    .attr("font-size", 20)
    .attr("fill", "#000");
  parts.forEach(part => {
    const ts = t.append("tspan").text(part.t);
    if (part.s) {
      ts.attr("font-family", "'Liberation Serif', 'DejaVu Serif', serif")
        .attr("font-style", "italic")
        .attr("font-weight", part.s === "bi" ? "bold" : "normal");
    }
  });
});
</script>
</body>
</html>
